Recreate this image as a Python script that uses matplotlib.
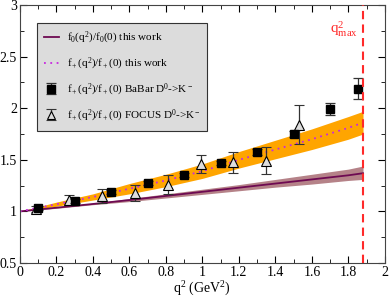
import matplotlib
matplotlib.use("Agg")
from matplotlib import pyplot as plt
import numpy as np

plt.rcParams['font.family'] = ['Liberation Serif', 'DejaVu Serif']
plt.rcParams['mathtext.fontset'] = 'custom'
plt.rcParams['mathtext.rm'] = 'Liberation Serif'
plt.rcParams['mathtext.it'] = 'Liberation Serif:italic'

# curves
q2 = [0.0, 0.2, 0.4, 0.6, 0.8, 1.0, 1.2, 1.4, 1.6, 1.8, 1.88]
fplus = [1.00, 1.07, 1.14, 1.22, 1.30, 1.39, 1.50, 1.60, 1.70, 1.81, 1.86]
fplus_hi = [1.00, 1.09, 1.17, 1.27, 1.36, 1.46, 1.58, 1.69, 1.80, 1.92, 1.97]
fplus_lo = [1.00, 1.05, 1.11, 1.17, 1.24, 1.32, 1.42, 1.51, 1.60, 1.70, 1.75]
fzero = [1.00, 1.036, 1.072, 1.11, 1.15, 1.19, 1.23, 1.27, 1.31, 1.35, 1.37]
fzero_hi = [1.00, 1.04, 1.08, 1.125, 1.17, 1.215, 1.26, 1.31, 1.36, 1.41, 1.44]
fzero_lo = [1.00, 1.03, 1.065, 1.095, 1.13, 1.165, 1.20, 1.235, 1.265, 1.30, 1.31]

# BaBar D0 -> K- points
babar_x = [0.1, 0.3, 0.5, 0.7, 0.9, 1.1, 1.3, 1.5, 1.7, 1.85]
babar_y = [1.03, 1.105, 1.19, 1.275, 1.355, 1.47, 1.575, 1.75, 1.995, 2.19]
babar_err = [0.02, 0.02, 0.02, 0.02, 0.02, 0.02, 0.03, 0.03, 0.06, 0.10]

# FOCUS D0 -> K- points
focus_x = [0.09, 0.27, 0.45, 0.63, 0.81, 0.99, 1.17, 1.35, 1.53]
focus_y = [1.02, 1.11, 1.15, 1.18, 1.26, 1.46, 1.475, 1.49, 1.84]
focus_err = [0.03, 0.05, 0.07, 0.08, 0.09, 0.09, 0.10, 0.13, 0.19]

q2max = 1.88

fig = plt.figure(figsize=(3.9, 2.97), dpi=100)
ax = fig.add_axes([0.051, 0.1145, 0.936, 0.8685])

ax.fill_between(q2, fplus_lo, fplus_hi, color='#ffa500', lw=0, zorder=1)
ax.fill_between(q2, fzero_lo, fzero_hi, color='#b58288', lw=0, zorder=1)
ax.plot(q2, fzero, color='#6e0a52', lw=1.3, zorder=2,
        label='f$_0$(q$^2$)/f$_0$(0) this work')
ax.plot(q2, fplus, color='#c828e0', lw=1.3, ls=(0, (1, 2.5)), zorder=2,
        label='f$_+$(q$^2$)/f$_+$(0) this work')
ax.errorbar(babar_x, babar_y, yerr=babar_err, fmt='s', color='black', ms=6,
            ecolor='#333333', elinewidth=0.9, capsize=3.5, capthick=0.9, zorder=4,
            label='f$_+$(q$^2$)/f$_+$(0) BaBar D$^0$->K$^-$')
ax.errorbar(focus_x, focus_y, yerr=focus_err, fmt='^', mfc='#dddddd', mec='black',
            mew=0.8, ms=7, ecolor='#333333', elinewidth=0.9, capsize=3.5,
            capthick=0.9, zorder=3,
            label='f$_+$(q$^2$)/f$_+$(0) FOCUS D$^0$->K$^-$')

ax.axvline(q2max, color='#ff2a2a', lw=1.5, ls=(0, (4, 2.5)), zorder=5)
ax.text(1.70, 2.72, r'q$^2_{\rm max}$', color='#ff2a2a', fontsize=11)

ax.set_xlim(0, 2)
ax.set_ylim(0.5, 3)
ax.set_xticks(np.arange(0, 2.01, 0.2))
ax.set_xticklabels(['0', '0.2', '0.4', '0.6', '0.8', '1', '1.2', '1.4', '1.6', '1.8', '2'])
ax.set_xticks(np.arange(0, 2.01, 0.1), minor=True)
ax.set_yticks([0.5, 1, 1.5, 2, 2.5, 3])
ax.set_yticklabels(['0.5', '1', '1.5', '2', '2.5', '3'])
ax.set_yticks(np.arange(0.5, 3.01, 0.25), minor=True)
ax.tick_params(which='both', direction='in', top=True, right=True, labelsize=10, pad=2)
ax.tick_params(which='major', length=5)
ax.tick_params(which='minor', length=3)
ax.set_xlabel('q$^2$ (GeV$^2$)', fontsize=10, labelpad=1)
for s in ax.spines.values():
    s.set_color('#444444')

leg = ax.legend(loc='upper left', bbox_to_anchor=(0.047, 0.93), fontsize=8,
                fancybox=False, framealpha=1, facecolor='#dcdcdc',
                edgecolor='#333333', handlelength=1.4, handletextpad=0.7,
                borderpad=0.6, labelspacing=0.9, borderaxespad=0,
                markerscale=0.85)
leg.get_frame().set_linewidth(0.8)

plt.savefig('out.png', dpi=100)
